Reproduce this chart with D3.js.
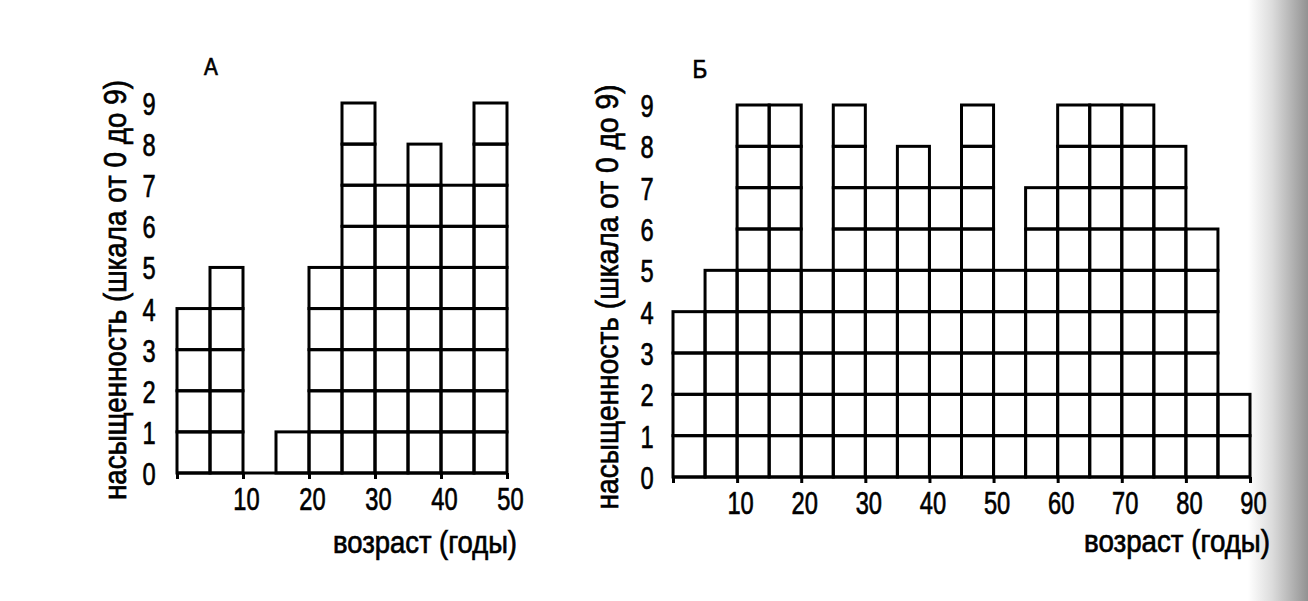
<!DOCTYPE html>
<html><head><meta charset="utf-8">
<script src="https://cdn.jsdelivr.net/npm/d3@7/dist/d3.min.js"></script>
<style>
body{margin:0;background:#fff;}
svg{display:block;}
text{font-family:"Liberation Sans",Arial,sans-serif;fill:#000;stroke:#000;stroke-width:0.7px;}
</style></head>
<body>
<svg id="chart" width="1308" height="601"></svg>
<script>
// ---- data ----
const binStartsA = [0,5,10,15,20,25,30,35,40,45];
const valuesA    = [4,5,0,1,5,9,7,8,7,9];
const binStartsB = [0,5,10,15,20,25,30,35,40,45,50,55,60,65,70,75,80,85];
const valuesB    = [4,5,9,9,5,9,7,8,7,9,5,7,9,9,9,8,6,2];
const xTicksA = [0,10,20,30,40,50];
const xTicksB = [0,10,20,30,40,50,60,70,80,90];
const yTicks  = [0,1,2,3,4,5,6,7,8,9];
const binWidth = 5;
const panelTitles = ["А","Б"];
const yTitle = "насыщенность (шкала от 0 до 9)";
const xTitle = "возраст (годы)";

const SX = 0.74; // condensed look
const svg = d3.select("#chart");

// scanner shadow on right edge
const defs = svg.append("defs");
const grad = defs.append("linearGradient").attr("id","shade").attr("x1","0").attr("x2","1");
grad.append("stop").attr("offset","0").attr("stop-color","#fff");
grad.append("stop").attr("offset","0.4").attr("stop-color","#dcdcdc");
grad.append("stop").attr("offset","1").attr("stop-color","#929292");
svg.append("rect").attr("x",1248).attr("y",0).attr("width",60).attr("height",601).attr("fill","url(#shade)");

function panel(cfg){
  const x = d3.scaleLinear().domain(cfg.xDomain).range(cfg.xRange);
  const y = d3.scaleLinear().domain([0,9]).range(cfg.yRange);
  const g = svg.append("g");
  const cells = [];
  cfg.starts.forEach((s,i)=>{ for(let k=0;k<cfg.values[i];k++) cells.push({s,k}); });
  g.selectAll("rect.cell").data(cells).join("rect").attr("class","cell")
    .attr("x",d=>x(d.s)).attr("y",d=>y(d.k+1))
    .attr("width",d=>x(d.s+binWidth)-x(d.s)).attr("height",d=>y(d.k)-y(d.k+1))
    .attr("fill","none").attr("stroke","#000").attr("stroke-width",3);
  // x axis
  const xa = g.append("g").attr("transform",`translate(0,${y(0)})`)
    .call(d3.axisBottom(x).tickValues(cfg.xTicks).tickSize(6).tickFormat(d=>d===0?"":d));
  xa.select(".domain").attr("stroke","#000").attr("stroke-width",3).attr("d",`M${x(cfg.xDomain[0])},0H${x(cfg.xDomain[1])}`);
  xa.selectAll(".tick line").attr("stroke","#000").attr("stroke-width",3);
  xa.selectAll(".tick text").attr("y",cfg.xLabelY).attr("dy",0).attr("x",3/SX)
    .attr("transform",`scale(${SX},1)`)
    .style("font-size","32px").style("font-family",null).attr("fill","#000");
  // y axis
  const ya = g.append("g").attr("transform",`translate(${x(0)},0)`)
    .call(d3.axisLeft(y).tickValues(yTicks).tickSize(0).tickFormat(d3.format("d")));
  ya.select(".domain").remove();
  ya.selectAll(".tick text").attr("x",cfg.yLabelDx/SX).attr("dy","0.36em").attr("text-anchor","middle")
    .attr("transform",`scale(${SX},1)`)
    .style("font-size","32px").style("font-family",null).attr("fill","#000");
  // titles
  svg.append("text").attr("transform",`translate(${cfg.titlePos[0]},${cfg.titlePos[1]}) scale(0.9,1)`)
    .attr("text-anchor","middle").style("font-size",cfg.titleSize+"px").text(cfg.title);
  svg.append("text").attr("transform",`translate(${cfg.yTitlePos[0]},${cfg.yTitlePos[1]}) rotate(-90)`)
    .attr("text-anchor","middle").attr("dy","0.35em").style("font-size","31px")
    .attr("textLength",cfg.yTitleLen).attr("lengthAdjust","spacingAndGlyphs").text(yTitle);
  svg.append("text").attr("x",cfg.xTitlePos[0]).attr("y",cfg.xTitlePos[1]).attr("text-anchor","end")
    .style("font-size","31px").attr("textLength",cfg.xTitleLen).attr("lengthAdjust","spacingAndGlyphs").text(xTitle);
}

panel({starts:binStartsA, values:valuesA, xDomain:[0,50], xRange:[177,507], yRange:[473,103],
  xTicks:xTicksA, xLabelY:37, yLabelDx:-28, title:panelTitles[0], titleSize:23, titlePos:[211,75],
  yTitlePos:[115,290], yTitleLen:420, xTitlePos:[517,553], xTitleLen:184});
panel({starts:binStartsB, values:valuesB, xDomain:[0,90], xRange:[673,1250], yRange:[477,105],
  xTicks:xTicksB, xLabelY:37, yLabelDx:-26, title:panelTitles[1], titleSize:25, titlePos:[700,78],
  yTitlePos:[607,297], yTitleLen:425, xTitlePos:[1270,552], xTitleLen:186});
</script>
</body></html>
